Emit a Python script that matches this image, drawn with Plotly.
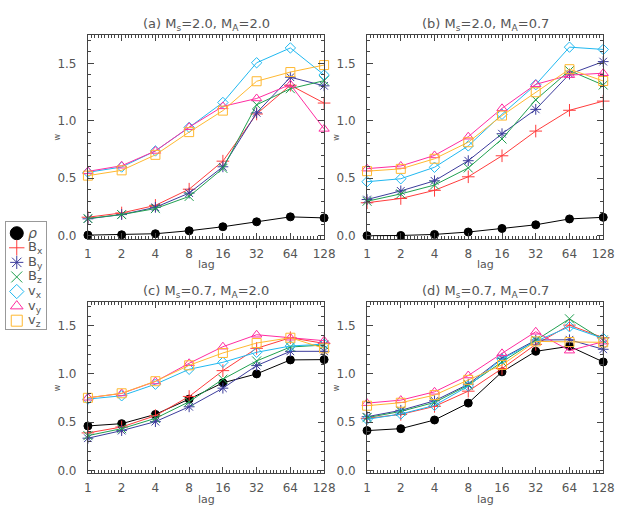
import plotly.graph_objects as go
from plotly.subplots import make_subplots

lags = [1, 2, 4, 8, 16, 32, 64, 128]
xpos = [0, 1, 2, 3, 4, 5, 6, 7]  # log2(lag)

# (a) Ms=2.0, MA=2.0
rho_a = [0.005, 0.008, 0.017, 0.043, 0.078, 0.121, 0.164, 0.155]
bx_a = [0.161, 0.198, 0.264, 0.405, 0.649, 1.06, 1.31, 1.155]
by_a = [0.147, 0.184, 0.247, 0.371, 0.600, 1.07, 1.38, 1.305]
bz_a = [0.150, 0.184, 0.236, 0.342, 0.586, 1.14, 1.28, 1.35]
vx_a = [0.552, 0.598, 0.738, 0.943, 1.16, 1.506, 1.635, 1.40]
vy_a = [0.560, 0.609, 0.738, 0.945, 1.126, 1.195, 1.316, 0.93]
vz_a = [0.523, 0.569, 0.704, 0.902, 1.089, 1.345, 1.425, 1.486]

# (b) Ms=2.0, MA=0.7
rho_b = [0.0, 0.002, 0.011, 0.032, 0.063, 0.095, 0.146, 0.160]
bx_b = [0.287, 0.324, 0.395, 0.513, 0.696, 0.911, 1.092, 1.172]
by_b = [0.315, 0.390, 0.478, 0.653, 0.888, 1.10, 1.407, 1.516]
bz_b = [0.300, 0.364, 0.441, 0.590, 0.842, 1.183, 1.438, 1.312]
vx_b = [0.470, 0.496, 0.596, 0.782, 1.057, 1.315, 1.642, 1.622]
vy_b = [0.584, 0.607, 0.699, 0.862, 1.109, 1.318, 1.398, 1.415]
vz_b = [0.562, 0.582, 0.670, 0.814, 1.046, 1.249, 1.450, 1.347]

# (c) Ms=0.7, MA=2.0
rho_c = [0.461, 0.485, 0.581, 0.740, 0.908, 1.001, 1.146, 1.149]
bx_c = [0.389, 0.450, 0.568, 0.767, 1.035, 1.266, 1.376, 1.317]
by_c = [0.334, 0.413, 0.506, 0.660, 0.853, 1.087, 1.235, 1.235]
bz_c = [0.361, 0.433, 0.540, 0.712, 0.946, 1.135, 1.280, 1.300]
vx_c = [0.740, 0.774, 0.894, 1.049, 1.121, 1.225, 1.290, 1.310]
vy_c = [0.753, 0.798, 0.922, 1.111, 1.283, 1.407, 1.376, 1.345]
vz_c = [0.753, 0.800, 0.925, 1.090, 1.218, 1.321, 1.376, 1.266]

# (d) Ms=0.7, MA=0.7
rho_d = [0.413, 0.433, 0.523, 0.698, 1.022, 1.235, 1.287, 1.125]
bx_d = [0.540, 0.581, 0.664, 0.822, 1.056, 1.307, 1.507, 1.376]
by_d = [0.557, 0.623, 0.722, 0.894, 1.163, 1.352, 1.355, 1.256]
bz_d = [0.547, 0.612, 0.705, 0.884, 1.125, 1.352, 1.572, 1.352]
vx_d = [0.530, 0.585, 0.674, 0.874, 1.156, 1.338, 1.490, 1.369]
vy_d = [0.698, 0.729, 0.815, 0.984, 1.214, 1.438, 1.242, 1.335]
vz_d = [0.671, 0.702, 0.781, 0.939, 1.094, 1.338, 1.331, 1.328]

panels = [
    ("(a) M<sub>s</sub>=2.0, M<sub>A</sub>=2.0", [rho_a, bx_a, by_a, bz_a, vx_a, vy_a, vz_a]),
    ("(b) M<sub>s</sub>=2.0, M<sub>A</sub>=0.7", [rho_b, bx_b, by_b, bz_b, vx_b, vy_b, vz_b]),
    ("(c) M<sub>s</sub>=0.7, M<sub>A</sub>=2.0", [rho_c, bx_c, by_c, bz_c, vx_c, vy_c, vz_c]),
    ("(d) M<sub>s</sub>=0.7, M<sub>A</sub>=0.7", [rho_d, bx_d, by_d, bz_d, vx_d, vy_d, vz_d]),
]

names = ["<i>ρ</i>", "B<sub>x</sub>", "B<sub>y</sub>", "B<sub>z</sub>",
         "v<sub>x</sub>", "v<sub>y</sub>", "v<sub>z</sub>"]
colors = ["black", "#ff3c3c", "#3c3c9c", "#20a050", "#20b8f0", "#ff2ca0", "#ffb830"]
symbols = ["circle", "cross-thin-open", "asterisk-open", "x-thin-open",
           "diamond-open", "triangle-up-open", "square-open"]
sizes = [8, 9, 9, 9, 8, 9, 9]

W, H = 623, 519
xdom = [[86 / W, 328 / W], [372 / W, 614 / W]]
ydom = [[1 - 241 / H, 1 - 35 / H], [1 - 477 / H, 1 - 304 / H]]

fig = make_subplots(rows=2, cols=2)
gray = "#555555"
font = dict(family="DejaVu Sans", size=12, color=gray)

for k, (title, series) in enumerate(panels):
    r, c = k // 2 + 1, k % 2 + 1
    for i, ys in enumerate(series):
        fig.add_trace(go.Scatter(
            x=xpos, y=ys, mode="lines+markers", showlegend=False,
            cliponaxis=False,
            line=dict(color=colors[i], width=1),
            marker=dict(symbol=symbols[i], size=sizes[i], color=colors[i],
                        line=dict(color=colors[i], width=1))),
            row=r, col=c)
    xd = xdom[c - 1]
    yd = ydom[r - 1]
    fig.update_xaxes(domain=xd, range=[0, 7], tickvals=xpos,
                     ticktext=[str(v) for v in lags], ticks="inside", ticklen=6,
                     minor=dict(dtick=0.1, ticks="inside", ticklen=3, tickcolor="#444"),
                     showline=True, linecolor="#444", linewidth=1, mirror="allticks",
                     tickcolor="#444", showgrid=False, zeroline=False,
                     ticklabelstandoff=3, tickfont=font, row=r, col=c)
    fig.update_yaxes(domain=yd, range=[-0.03, 1.75], tickvals=[0, 0.5, 1.0, 1.5],
                     ticktext=["0.0", "0.5", "1.0", "1.5"], ticks="inside", ticklen=6,
                     minor=dict(dtick=0.1, ticks="inside", ticklen=3, tickcolor="#444"),
                     showline=True, linecolor="#444", linewidth=1, mirror="allticks",
                     tickcolor="#444", showgrid=False, zeroline=False,
                     ticklabelstandoff=8, tickfont=font, row=r, col=c)
    xc = (xd[0] + xd[1]) / 2
    fig.add_annotation(text=title, x=xc, y=yd[1] + 10 / H, xref="paper", yref="paper",
                       xanchor="center", yanchor="middle", showarrow=False,
                       font=dict(family="DejaVu Sans", size=13, color=gray))
    fig.add_annotation(text="lag", x=xc, y=yd[0] - 26 / H, xref="paper", yref="paper",
                       xanchor="center", yanchor="middle", showarrow=False,
                       font=dict(family="DejaVu Sans", size=11, color=gray))
    fig.add_annotation(text="w", x=xd[0] - 31 / W, y=(yd[0] + yd[1]) / 2,
                       xref="paper", yref="paper", textangle=-90,
                       xanchor="center", yanchor="middle", showarrow=False,
                       font=dict(family="DejaVu Sans", size=8, color=gray))

# compact legend drawn in its own small box axis
idx = list(range(len(names)))
for i in idx:
    fig.add_trace(go.Scatter(
        x=[0.27], y=[i], xaxis="x5", yaxis="y5", mode="markers", showlegend=False,
        cliponaxis=False, hoverinfo="skip",
        marker=dict(symbol=symbols[i], size=11 if i else 13, color=colors[i],
                    line=dict(color=colors[i], width=1))))
    fig.add_annotation(text=names[i], x=0.5, y=i, xref="x5", yref="y5",
                       xanchor="left", yanchor="middle", showarrow=False,
                       font=dict(family="DejaVu Sans", size=14 if i == 0 else 13, color=gray))

box_axis = dict(showline=True, mirror=True, linecolor="#999", linewidth=1,
                showticklabels=False, ticks="", showgrid=False, zeroline=False,
                fixedrange=True)
fig.update_layout(
    xaxis5=dict(domain=[2 / W, 43 / W], range=[0, 1], anchor="y5", **box_axis),
    yaxis5=dict(domain=[1 - 332 / H, 1 - 224 / H], range=[6.6, -0.75], anchor="x5", **box_axis),
)

fig.update_layout(
    width=W, height=H,
    margin=dict(l=0, r=0, t=0, b=0),
    paper_bgcolor="white", plot_bgcolor="white",
    font=font,
    showlegend=False,
)

fig.write_html("out.html", config={"displayModeBar": False},
               post_script="document.body.style.margin='0';")
